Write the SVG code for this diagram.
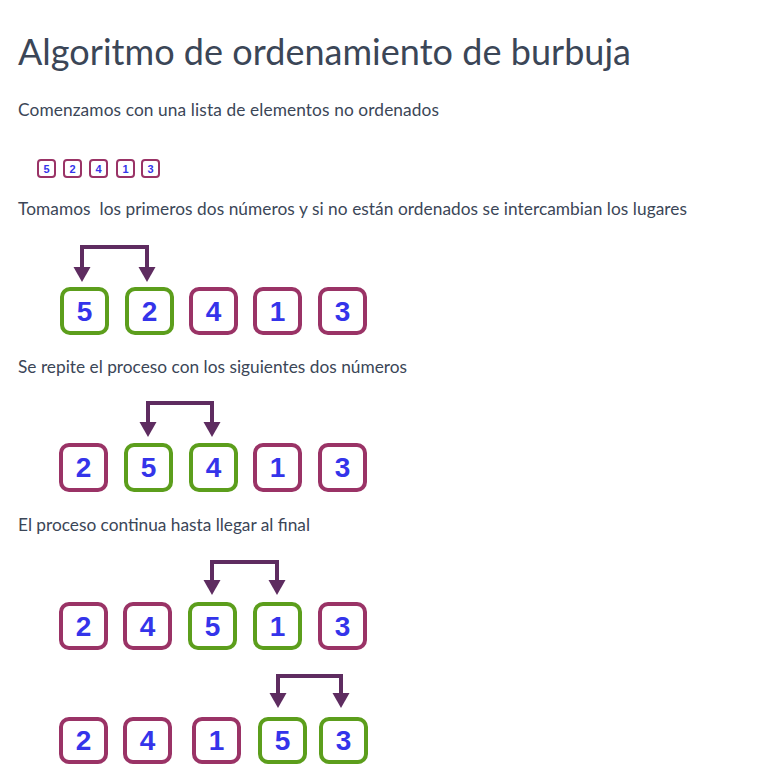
<svg xmlns="http://www.w3.org/2000/svg" width="770" height="776" viewBox="0 0 770 776">
<defs>
<style>
.t{font-family:Lato,"Open Sans","Liberation Sans",sans-serif;fill:#3b4657;}
.h{font-size:36px;}
.p{font-size:17.3px;white-space:pre;}
.b rect{fill:#fff;stroke-width:4;}
.p0 rect{stroke:#9a3366;}
.g rect{stroke:#5c9e1c;}
.n{font-family:"Liberation Sans",Arial,sans-serif;font-weight:bold;font-size:28px;fill:#3434ea;text-anchor:middle;}
.s rect{fill:#fff;stroke:#9a3366;stroke-width:2;}
.sn{font-family:"Liberation Sans",Arial,sans-serif;font-weight:bold;font-size:11px;fill:#3434ea;text-anchor:middle;}
.c{fill:none;stroke:#5e2c60;stroke-width:4;marker-start:url(#ah);marker-end:url(#ah);}
</style>
<marker id="ah" markerUnits="userSpaceOnUse" markerWidth="16" markerHeight="18" refX="0" refY="8.5" orient="auto-start-reverse" viewBox="0 0 16 17">
<path d="M0,0 L15,8.5 L0,17 z" fill="#5e2c60"/>
</marker>
</defs>
<rect width="770" height="776" fill="#fff"/>
<g id="title"><text class="t h" x="18" y="65" textLength="613">Algoritmo de ordenamiento de burbuja</text></g>
<g id="texts">
<text class="t p" x="18" y="116" textLength="421">Comenzamos con una lista de elementos no ordenados</text>
<text class="t p" x="18" y="215" textLength="669">Tomamos  los primeros dos números y si no están ordenados se intercambian los lugares</text>
<text class="t p" x="18" y="373" textLength="389">Se repite el proceso con los siguientes dos números</text>
<text class="t p" x="18" y="531" textLength="292">El proceso continua hasta llegar al final</text>
</g>
<g id="small">
<g id="s1" class="s"><rect x="38" y="160" width="17" height="17" rx="3"/><text class="sn" x="46.5" y="172.5">5</text></g>
<g id="s2" class="s"><rect x="64" y="160" width="17" height="17" rx="3"/><text class="sn" x="72.5" y="172.5">2</text></g>
<g id="s3" class="s"><rect x="90" y="160" width="17" height="17" rx="3"/><text class="sn" x="98.5" y="172.5">4</text></g>
<g id="s4" class="s"><rect x="117" y="160" width="17" height="17" rx="3"/><text class="sn" x="125.5" y="172.5">1</text></g>
<g id="s5" class="s"><rect x="142" y="160" width="17" height="17" rx="3"/><text class="sn" x="150.5" y="172.5">3</text></g>
</g>
<g id="row1">
<g id="r1a" class="b g"><rect x="62" y="289" width="45" height="44" rx="8"/><text class="n" x="84.5" y="321">5</text></g>
<g id="r1b" class="b g"><rect x="127" y="289" width="45" height="44" rx="8"/><text class="n" x="149.5" y="321">2</text></g>
<g id="r1c" class="b p0"><rect x="191" y="289" width="45" height="44" rx="8"/><text class="n" x="213.5" y="321">4</text></g>
<g id="r1d" class="b p0"><rect x="255" y="289" width="45" height="44" rx="8"/><text class="n" x="277.5" y="321">1</text></g>
<g id="r1e" class="b p0"><rect x="320" y="289" width="45" height="44" rx="8"/><text class="n" x="342.5" y="321">3</text></g>
</g>
<g id="row2">
<g id="r2a" class="b p0"><rect x="61" y="445" width="45" height="45" rx="8"/><text class="n" x="83.5" y="477">2</text></g>
<g id="r2b" class="b g"><rect x="126" y="445" width="45" height="45" rx="8"/><text class="n" x="148.5" y="477">5</text></g>
<g id="r2c" class="b g"><rect x="191" y="445" width="45" height="45" rx="8"/><text class="n" x="213.5" y="477">4</text></g>
<g id="r2d" class="b p0"><rect x="255" y="445" width="45" height="45" rx="8"/><text class="n" x="277.5" y="477">1</text></g>
<g id="r2e" class="b p0"><rect x="320" y="445" width="45" height="45" rx="8"/><text class="n" x="342.5" y="477">3</text></g>
</g>
<g id="row3">
<g id="r3a" class="b p0"><rect x="61" y="604" width="45" height="44" rx="8"/><text class="n" x="83.5" y="636">2</text></g>
<g id="r3b" class="b p0"><rect x="125" y="604" width="45" height="44" rx="8"/><text class="n" x="147.5" y="636">4</text></g>
<g id="r3c" class="b g"><rect x="190" y="604" width="45" height="44" rx="8"/><text class="n" x="212.5" y="636">5</text></g>
<g id="r3d" class="b g"><rect x="255" y="604" width="45" height="44" rx="8"/><text class="n" x="277.5" y="636">1</text></g>
<g id="r3e" class="b p0"><rect x="320" y="604" width="45" height="44" rx="8"/><text class="n" x="342.5" y="636">3</text></g>
</g>
<g id="row4">
<g id="r4a" class="b p0"><rect x="61" y="719" width="45" height="43" rx="8"/><text class="n" x="83.5" y="750">2</text></g>
<g id="r4b" class="b p0"><rect x="125" y="719" width="45" height="43" rx="8"/><text class="n" x="147.5" y="750">4</text></g>
<g id="r4c" class="b p0"><rect x="194" y="719" width="45" height="43" rx="8"/><text class="n" x="216.5" y="750">1</text></g>
<g id="r4d" class="b g"><rect x="260" y="719" width="45" height="43" rx="8"/><text class="n" x="282.5" y="750">5</text></g>
<g id="r4e" class="b g"><rect x="321" y="719" width="45" height="43" rx="8"/><text class="n" x="343.5" y="750">3</text></g>
</g>
<g id="connectors">
<path class="c" d="M82,267 V247 H147 V267"/>
<path class="c" d="M148,422 V403 H212 V422"/>
<path class="c" d="M212,580 V562 H277 V580"/>
<path class="c" d="M278,693 V676 H341 V693"/>
</g>
</svg>
